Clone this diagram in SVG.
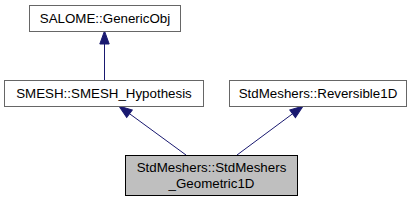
<svg xmlns="http://www.w3.org/2000/svg" width="413" height="201" viewBox="0 0 413 201">
<style>
.node rect{fill:#ffffff;stroke:#666666;stroke-width:1}
.node.cur rect{fill:#bfbfbf;stroke:#000000}
text{font-family:"Liberation Sans",Arial,sans-serif;font-size:13.33px;fill:#000000;text-anchor:middle}
.edge{stroke:#191970;stroke-width:1;fill:none}
</style>
<defs>
<marker id="ah" markerUnits="userSpaceOnUse" markerWidth="14" markerHeight="12" refX="0" refY="0" viewBox="0 -6 14 12" orient="auto" overflow="visible">
<path d="M0,-4.7 L13,0 L0,4.7 Z" fill="#191970" stroke="#191970" stroke-width="1"/>
</marker>
</defs>
<g id="connectors">
<line class="edge" x1="104.5" y1="80" x2="104.5" y2="44" marker-end="url(#ah)"/>
<line class="edge" x1="186" y1="155" x2="129.5" y2="113.7" marker-end="url(#ah)"/>
<line class="edge" x1="237" y1="155" x2="292.6" y2="113.75" marker-end="url(#ah)"/>
</g>
<g id="node-GenericObj" class="node">
<rect x="29.5" y="5.5" width="151" height="26"/>
<text x="105" y="23">SALOME::GenericObj</text>
</g>
<g id="node-SMESH_Hypothesis" class="node">
<rect x="4.5" y="80.5" width="199" height="26"/>
<text x="104" y="98">SMESH::SMESH_Hypothesis</text>
</g>
<g id="node-Reversible1D" class="node">
<rect x="229.5" y="80.5" width="177" height="26"/>
<text x="318" y="98">StdMeshers::Reversible1D</text>
</g>
<g id="node-Geometric1D" class="node cur">
<rect x="125.5" y="155.5" width="172" height="40"/>
<text x="211.5" y="172">StdMeshers::StdMeshers</text>
<text x="211.5" y="188">_Geometric1D</text>
</g>
</svg>
